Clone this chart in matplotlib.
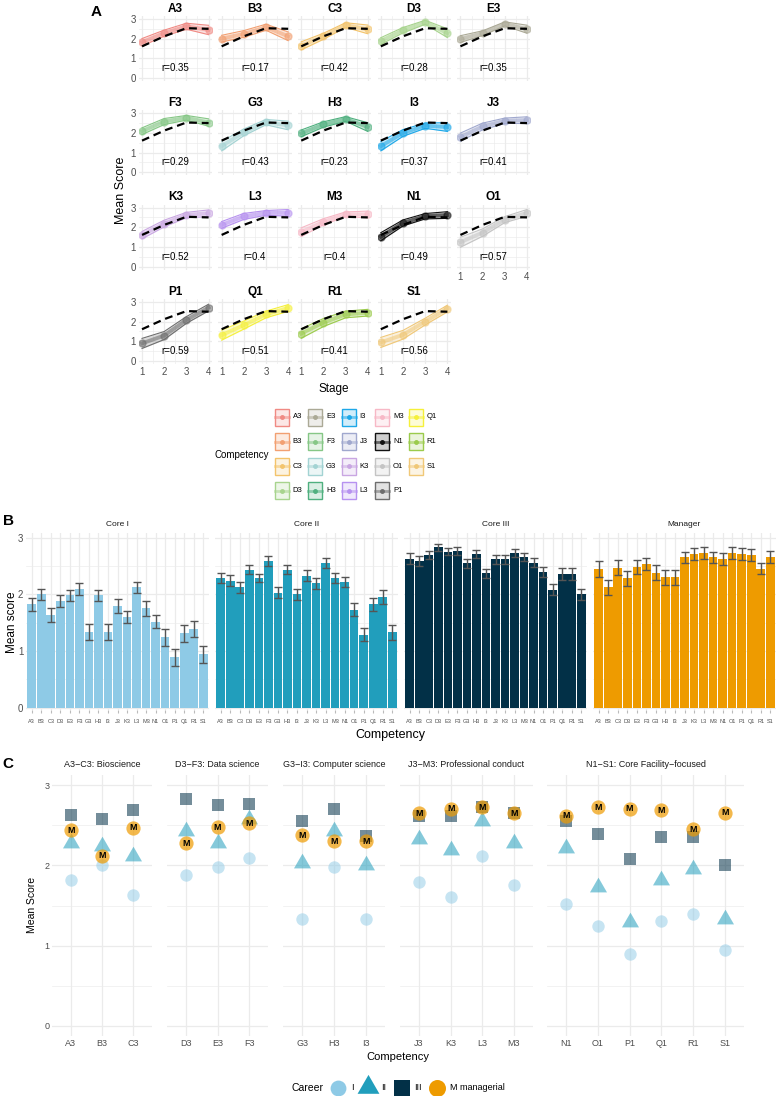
import numpy as np
import matplotlib
matplotlib.use("Agg")
from matplotlib import pyplot as plt
from matplotlib.patches import Rectangle

plt.rcParams['font.family'] = ['Liberation Sans', 'DejaVu Sans']

W, H = 780, 1096

competencies = ["A3", "B3", "C3", "D3", "E3", "F3", "G3", "H3", "I3", "J3",
                "K3", "L3", "M3", "N1", "O1", "P1", "Q1", "R1", "S1"]
stages = [1, 2, 3, 4]
stage_names = ["Core I", "Core II", "Core III", "Manager"]

# mean score per competency at each career stage
core_i = [1.82, 2.00, 1.635, 1.88, 1.98, 2.09, 1.33, 1.98, 1.33, 1.79,
          1.60, 2.12, 1.75, 1.52, 1.24, 0.89, 1.31, 1.39, 0.94]
core_ii = [2.28, 2.24, 2.12, 2.43, 2.28, 2.58, 2.03, 2.43, 2.00, 2.33,
           2.19, 2.55, 2.28, 2.22, 1.73, 1.29, 1.82, 1.95, 1.33]
core_iii = [2.63, 2.58, 2.69, 2.83, 2.75, 2.77, 2.55, 2.71, 2.37, 2.62,
            2.62, 2.73, 2.66, 2.56, 2.39, 2.08, 2.36, 2.36, 2.00]
manager = [2.44, 2.12, 2.47, 2.28, 2.48, 2.53, 2.38, 2.30, 2.30, 2.65,
           2.71, 2.73, 2.65, 2.62, 2.73, 2.71, 2.69, 2.45, 2.66]

# standard errors (error bars in B)
err_core_i = [0.11, 0.10, 0.12, 0.10, 0.10, 0.10, 0.14, 0.10, 0.14, 0.12,
              0.11, 0.10, 0.13, 0.12, 0.15, 0.15, 0.15, 0.14, 0.15]
err_core_ii = [0.09, 0.10, 0.09, 0.08, 0.07, 0.09, 0.10, 0.08, 0.10, 0.10,
               0.10, 0.09, 0.09, 0.09, 0.11, 0.12, 0.12, 0.12, 0.13]
err_core_iii = [0.09, 0.09, 0.07, 0.06, 0.06, 0.07, 0.08, 0.07, 0.08, 0.08,
                0.08, 0.07, 0.07, 0.08, 0.09, 0.10, 0.10, 0.10, 0.10]
err_manager = [0.14, 0.13, 0.13, 0.13, 0.12, 0.11, 0.13, 0.13, 0.13, 0.10,
               0.10, 0.10, 0.10, 0.10, 0.10, 0.10, 0.10, 0.10, 0.10]

overall = [1.61, 2.12, 2.53, 2.50]
r_labels = ["0.35", "0.17", "0.42", "0.28", "0.35", "0.29", "0.43", "0.23", "0.37", "0.41",
            "0.52", "0.4", "0.4", "0.49", "0.57", "0.59", "0.51", "0.41", "0.56"]

comp_colors = ["#F08A84", "#F2A072", "#F3C46C", "#A8D48E", "#ABA996", "#86C786",
               "#A3D3D3", "#4FB07F", "#1EA8E8", "#A0A8CE", "#C9A6E2", "#B792F0",
               "#F7B8C6", "#111111", "#C4C4C4", "#6E6E6E", "#F5F03A", "#9BCB4C",
               "#F0C878"]
stage_colors = ["#8ECAE6", "#219EBC", "#023047", "#EE9B00"]

groups = [("A3\u2212C3: Bioscience", ["A3", "B3", "C3"]),
          ("D3\u2212F3: Data science", ["D3", "E3", "F3"]),
          ("G3\u2212I3: Computer science", ["G3", "H3", "I3"]),
          ("J3\u2212M3: Professional conduct", ["J3", "K3", "L3", "M3"]),
          ("N1\u2212S1: Core Facility\u2212focused", ["N1", "O1", "P1", "Q1", "R1", "S1"])]

means = np.array([core_i, core_ii, core_iii, manager])
errs = np.array([err_core_i, err_core_ii, err_core_iii, err_manager])

GRID = "#EBEBEB"
TXT = "#4D4D4D"

fig = plt.figure(figsize=(7.8, 10.96), dpi=100)


def px_axes(x0, y0, x1, y1):
    return fig.add_axes([x0 / W, 1 - y1 / H, (x1 - x0) / W, (y1 - y0) / H])


def minimal(ax):
    for s in ax.spines.values():
        s.set_visible(False)
    ax.tick_params(which='both', length=0, colors=TXT, pad=2)
    ax.grid(True, which='major', color=GRID, lw=0.9)
    ax.grid(True, which='minor', color=GRID, lw=0.45)
    ax.set_axisbelow(True)


# ---- panel A
for k, comp in enumerate(competencies):
    r, c = divmod(k, 5)
    top = 16 + 94.3 * r
    left = 138.7 + 79.6 * c
    ax = px_axes(left, top, left + 73.2, top + 65)
    minimal(ax)
    m = means[:, k]
    e = errs[:, k] * 1.7
    col = comp_colors[k]
    ax.fill_between(stages, m - e, m + e, color=col, alpha=0.25, lw=0)
    ax.plot(stages, m - e, color=col, lw=0.8)
    ax.plot(stages, m + e, color=col, lw=0.8)
    ax.plot(stages, m, color=col, lw=2.8, alpha=0.55, marker='o', ms=5)
    ax.plot(stages, overall, color='black', lw=1.6, ls=(0, (3.5, 2.2)))
    ax.text(2.5, 0.5, "r=" + r_labels[k], ha='center', va='center', fontsize=7)
    ax.set_xlim(0.85, 4.15)
    ax.set_ylim(-0.15, 3.15)
    ax.set_xticks(stages)
    ax.set_yticks([0, 1, 2, 3])
    ax.set_xticks([1.5, 2.5, 3.5], minor=True)
    ax.set_yticks([0.5, 1.5, 2.5], minor=True)
    ax.tick_params(labelsize=7)
    ax.set_title(comp, fontsize=8.5, fontweight='bold', pad=3)
    if not (r == 3 or (r == 2 and c == 4)):
        ax.set_xticklabels([])
    if c != 0:
        ax.set_yticklabels([])

# ---- panel B
x = np.arange(len(competencies))
lefts_b = [26, 215, 404, 593]
for s in range(4):
    ax = px_axes(lefts_b[s], 533, lefts_b[s] + 183, 710)
    minimal(ax)
    ax.bar(x, means[s], width=0.9, color=stage_colors[s])
    ax.errorbar(x, means[s], yerr=errs[s], fmt='none', ecolor='#555555',
                elinewidth=1, capsize=3, capthick=1)
    ax.set_xlim(-0.6, 18.6)
    ax.set_ylim(-0.04, 3.08)
    ax.set_xticks(x)
    ax.set_xticklabels(competencies, fontsize=4)
    ax.tick_params(axis='x', length=2.5, color='#BBBBBB', pad=4)
    ax.set_yticks([0, 1, 2, 3])
    ax.set_yticks([0.5, 1.5, 2.5], minor=True)
    ax.tick_params(axis='y', labelsize=7)
    if s != 0:
        ax.set_yticklabels([])
    ax.set_title(stage_names[s], fontsize=6, pad=5, color='#1A1A1A')

# ---- panel C
tri = [(-1, -0.577), (1, -0.577), (0, 1.155)]
bounds_c = [(52, 152), (167, 268), (283, 385), (400, 533), (547, 744)]
for g, (title, members) in enumerate(groups):
    idx = [competencies.index(mm) for mm in members]
    ax = px_axes(bounds_c[g][0], 775, bounds_c[g][1], 1036)
    minimal(ax)
    xs = np.arange(len(idx))
    ax.scatter(xs, means[0, idx], s=80, marker='o', color=stage_colors[0], alpha=0.5, lw=0)
    ax.scatter(xs, means[1, idx], s=200, marker=tri, color=stage_colors[1], alpha=0.55, lw=0)
    ax.scatter(xs, means[2, idx], s=70, marker='s', color=stage_colors[2], alpha=0.55, lw=0)
    ax.scatter(xs, means[3, idx], s=105, marker='o', color=stage_colors[3], alpha=0.7, lw=0)
    for xi, yi in zip(xs, means[3, idx]):
        ax.text(xi, yi, "M", ha='center', va='center', fontsize=6.5, fontweight='bold')
    ax.set_xlim(-0.6, len(idx) - 0.4)
    ax.set_ylim(-0.13, 3.13)
    ax.set_xticks(xs)
    ax.set_xticklabels(members, fontsize=6.5)
    ax.set_yticks([0, 1, 2, 3])
    ax.set_yticks([0.5, 1.5, 2.5], minor=True)
    ax.tick_params(axis='y', labelsize=6.5)
    if g != 0:
        ax.set_yticklabels([])
    ax.set_title(title, fontsize=6.5, pad=6, color='#1A1A1A')

# ---- overlay for labels and legends
ov = fig.add_axes([0, 0, 1, 1])
ov.axis('off')
ov.set_autoscale_on(False)
ov.set_xlim(0, W)
ov.set_ylim(H, 0)

ov.text(96, 12, "A", fontsize=11, fontweight='bold', ha='center', va='center')
ov.text(8, 521, "B", fontsize=11, fontweight='bold', ha='center', va='center')
ov.text(8, 764, "C", fontsize=11, fontweight='bold', ha='center', va='center')

ov.text(121, 190, "Mean Score", rotation=90, fontsize=9, ha='center', va='center')
ov.text(334, 389, "Stage", fontsize=8.5, ha='center', va='center')
ov.text(269, 455, "Competency", fontsize=7, ha='right', va='center')

for k, comp in enumerate(competencies):
    ci, ri = divmod(k, 4)
    cx = 281.5 + 33.5 * ci
    cy = 417 + 24.6 * ri
    col = comp_colors[k]
    ov.add_patch(Rectangle((cx - 7, cy - 8.5), 14, 17, facecolor=col, alpha=0.2, edgecolor='none'))
    ov.add_patch(Rectangle((cx - 7, cy - 8.5), 14, 17, facecolor='none', edgecolor=col, lw=1))
    ov.plot([cx - 7, cx + 7], [cy, cy], color=col, lw=2, alpha=0.55)
    ov.plot([cx], [cy], 'o', color=col, ms=2.5)
    ov.text(cx + 11, cy, comp, fontsize=5.5, va='center')

ov.text(12, 622, "Mean score", rotation=90, fontsize=8.5, ha='center', va='center')
ov.text(390, 735, "Competency", fontsize=9, ha='center', va='center')

ov.text(32, 905, "Mean Score", rotation=90, fontsize=7.5, ha='center', va='center')
ov.text(398, 1057, "Competency", fontsize=8, ha='center', va='center')

ov.text(323, 1088, "Career", fontsize=7.5, ha='right', va='center')
ov.scatter([338], [1088], s=130, marker='o', color=stage_colors[0], lw=0)
ov.text(351, 1088, "I", fontsize=6.5, va='center')
ov.scatter([368], [1087], s=330, marker=tri, color=stage_colors[1], lw=0)
ov.text(381, 1088, "II", fontsize=6.5, va='center')
ov.scatter([402], [1088], s=120, marker='s', color=stage_colors[2], lw=0)
ov.text(414, 1088, "III", fontsize=6.5, va='center')
ov.scatter([437], [1088], s=150, marker='o', color=stage_colors[3], lw=0)
ov.text(450, 1088, "M managerial", fontsize=6.5, va='center')

fig.savefig("out.png", dpi=100)
